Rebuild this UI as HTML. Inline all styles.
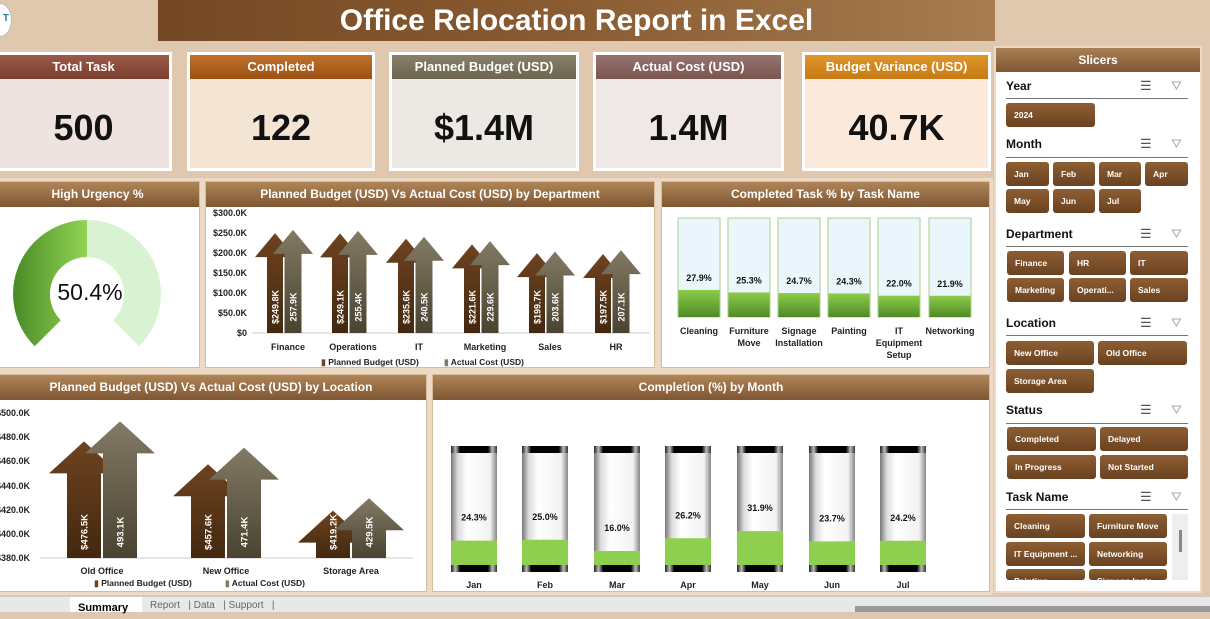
<!DOCTYPE html>
<html><head><meta charset="utf-8"><style>
*{margin:0;padding:0;box-sizing:border-box}
body{width:1210px;height:612px;overflow:hidden;background:#dfc8ae;font-family:"Liberation Sans",sans-serif;position:relative}
.abs{position:absolute}
.title{left:158px;top:0;width:837px;height:41px;background:linear-gradient(90deg,#744824,#8a5c32 50%,#a67c50);color:#fff;font-weight:bold;font-size:30px;text-align:center;line-height:41px}
.card{position:absolute;top:52px;height:119px;border:3px solid #fff}
.card .h{height:24px;color:#fff;font-weight:bold;font-size:13px;text-align:center;line-height:24px}
.card .v{height:89px;font-weight:bold;font-size:36px;text-align:center;line-height:98px;color:#111}
.panel{position:absolute;background:#fff;border:1px solid #d6bb9c;box-shadow:0 0 0 3px #ecdac6}
.ph{height:25px;background:linear-gradient(#b08558,#7e5632);color:#fff;font-weight:bold;font-size:12px;text-align:center;line-height:25px}
.sl{position:absolute;left:996px;top:48px;width:204px;height:543px;background:#fff;box-shadow:0 0 0 2px #ecdac6}
.slh{height:24px;background:linear-gradient(#a98056,#7e5632);color:#fff;font-weight:bold;font-size:12px;text-align:center;line-height:24px}
.lbl{position:absolute;left:1006px;font-weight:bold;font-size:12px;color:#111}
.ln{position:absolute;left:1006px;width:182px;height:1px;background:#777}
.b{position:absolute;height:24px;background:linear-gradient(#8e5e33,#6a4220);color:#fff;font-weight:bold;font-size:8.5px;line-height:24px;padding-left:8px;border-radius:3px;white-space:nowrap;overflow:hidden}
.ic{position:absolute;left:1140px;font-size:13px;color:#555}
.fi{position:absolute;left:1171px;font-size:13px;color:#aaa}
</style></head><body>
<div class="abs" style="left:-12px;top:3px;width:24px;height:34px;border-radius:50%;background:#fff;border:1px solid #bbb;font-size:10px;font-weight:bold;color:#2a7fa0;text-align:right;line-height:30px;padding-right:2px">T</div>
<div class="abs title">Office Relocation Report in Excel</div>

<div class="card" style="left:-5px;width:177px"><div class="h" style="background:linear-gradient(#9c5a48,#7a3e30)">Total Task</div><div class="v" style="background:#efe3e0">500</div></div>
<div class="card" style="left:187px;width:188px"><div class="h" style="background:linear-gradient(#c0702a,#9c5214)">Completed</div><div class="v" style="background:#f4e4d3">122</div></div>
<div class="card" style="left:389px;width:190px"><div class="h" style="background:linear-gradient(#888067,#6c6550)">Planned Budget (USD)</div><div class="v" style="background:#ece9e4">$1.4M</div></div>
<div class="card" style="left:593px;width:191px"><div class="h" style="background:linear-gradient(#957570,#7a5550)">Actual Cost (USD)</div><div class="v" style="background:#efe8e6">1.4M</div></div>
<div class="card" style="left:802px;width:189px"><div class="h" style="background:linear-gradient(#e0962a,#c87a14)">Budget Variance (USD)</div><div class="v" style="background:#fbeadb">40.7K</div></div>

<div class="panel" style="left:-5px;top:181px;width:205px;height:187px"><div class="ph">High Urgency %</div></div>
<div class="panel" style="left:205px;top:181px;width:450px;height:187px"><div class="ph">Planned Budget (USD) Vs Actual Cost (USD) by Department</div></div>
<div class="panel" style="left:661px;top:181px;width:329px;height:187px"><div class="ph">Completed Task % by Task Name</div></div>
<div class="panel" style="left:-5px;top:374px;width:432px;height:218px"><div class="ph">Planned Budget (USD) Vs Actual Cost (USD) by Location</div></div>
<div class="panel" style="left:432px;top:374px;width:558px;height:218px"><div class="ph">Completion (%) by Month</div></div>

<div class="sl"><div class="slh">Slicers</div></div>
<div class="lbl" style="top:79px">Year</div><div class="ln" style="top:98px"></div>
<div class="lbl" style="top:137px">Month</div><div class="ln" style="top:157px"></div>
<div class="lbl" style="top:227px">Department</div><div class="ln" style="top:246px"></div>
<div class="lbl" style="top:316px">Location</div><div class="ln" style="top:335px"></div>
<div class="lbl" style="top:403px">Status</div><div class="ln" style="top:423px"></div>
<div class="lbl" style="top:490px">Task Name</div><div class="ln" style="top:509px"></div>
<div class="ic" style="top:78px">☰</div><div class="fi" style="top:78px">⛛</div>
<div class="ic" style="top:136px">☰</div><div class="fi" style="top:136px">⛛</div>
<div class="ic" style="top:226px">☰</div><div class="fi" style="top:226px">⛛</div>
<div class="ic" style="top:315px">☰</div><div class="fi" style="top:315px">⛛</div>
<div class="ic" style="top:402px">☰</div><div class="fi" style="top:402px">⛛</div>
<div class="ic" style="top:489px">☰</div><div class="fi" style="top:489px">⛛</div>

<div class="b" style="left:1006px;top:103px;width:89px">2024</div>
<div class="b" style="left:1006px;top:162px;width:43px">Jan</div>
<div class="b" style="left:1053px;top:162px;width:42px">Feb</div>
<div class="b" style="left:1099px;top:162px;width:42px">Mar</div>
<div class="b" style="left:1145px;top:162px;width:43px">Apr</div>
<div class="b" style="left:1006px;top:189px;width:43px">May</div>
<div class="b" style="left:1053px;top:189px;width:42px">Jun</div>
<div class="b" style="left:1099px;top:189px;width:42px">Jul</div>
<div class="b" style="left:1007px;top:251px;width:57px">Finance</div>
<div class="b" style="left:1069px;top:251px;width:57px">HR</div>
<div class="b" style="left:1130px;top:251px;width:58px">IT</div>
<div class="b" style="left:1007px;top:278px;width:57px">Marketing</div>
<div class="b" style="left:1069px;top:278px;width:57px">Operati...</div>
<div class="b" style="left:1130px;top:278px;width:58px">Sales</div>
<div class="b" style="left:1006px;top:341px;width:88px">New Office</div>
<div class="b" style="left:1098px;top:341px;width:89px">Old Office</div>
<div class="b" style="left:1006px;top:369px;width:88px">Storage Area</div>
<div class="b" style="left:1007px;top:427px;width:89px">Completed</div>
<div class="b" style="left:1100px;top:427px;width:88px">Delayed</div>
<div class="b" style="left:1007px;top:455px;width:89px">In Progress</div>
<div class="b" style="left:1100px;top:455px;width:88px">Not Started</div>
<div class="b" style="left:1006px;top:514px;width:79px">Cleaning</div>
<div class="b" style="left:1089px;top:514px;width:78px">Furniture Move</div>
<div class="b" style="left:1006px;top:542px;width:79px">IT Equipment ...</div>
<div class="b" style="left:1089px;top:542px;width:78px">Networking</div>
<div class="b" style="left:1006px;top:569px;width:79px;height:11px">Painting</div>
<div class="b" style="left:1089px;top:569px;width:78px;height:11px">Signage Insta...</div>
<div class="abs" style="left:1172px;top:514px;width:16px;height:66px;background:#eee"></div>
<div class="abs" style="left:1179px;top:530px;width:3px;height:22px;background:#888"></div>

<div class="abs" style="left:0;top:596px;width:1210px;height:16px;background:#e8e8e8;border-top:1px solid #ccc"></div>
<div class="abs" style="left:70px;top:597px;width:72px;height:15px;background:#fff;font-size:11px;font-weight:bold;padding-left:8px;line-height:22px">Summary</div>
<div class="abs" style="left:150px;top:600px;font-size:10px;color:#666">Report &nbsp;&nbsp;| Data &nbsp;&nbsp;| Support &nbsp;&nbsp;|</div>
<div class="abs" style="left:855px;top:606px;width:355px;height:6px;background:#999"></div>

<svg class="abs" style="left:0;top:0" width="1210" height="612" font-family="Liberation Sans, sans-serif">
<defs>
<linearGradient id="gp" x1="0" y1="0" x2="0" y2="1"><stop offset="0" stop-color="#6e4320"/><stop offset="1" stop-color="#43280f"/></linearGradient>
<linearGradient id="ga" x1="0" y1="0" x2="0" y2="1"><stop offset="0" stop-color="#827a64"/><stop offset="1" stop-color="#4a4332"/></linearGradient>
<linearGradient id="gg" x1="0" y1="0" x2="1" y2="0"><stop offset="0" stop-color="#4a8a26"/><stop offset="1" stop-color="#92d452"/></linearGradient>
<linearGradient id="gt" x1="0" y1="0" x2="0" y2="1"><stop offset="0" stop-color="#8dcc4a"/><stop offset="1" stop-color="#4f8a26"/></linearGradient>
<linearGradient id="cyl" x1="0" y1="0" x2="1" y2="0"><stop offset="0" stop-color="#777"/><stop offset="0.15" stop-color="#ddd"/><stop offset="0.35" stop-color="#fff"/><stop offset="0.85" stop-color="#f2f2f2"/><stop offset="1" stop-color="#888"/></linearGradient>
<linearGradient id="cap" x1="0" y1="0" x2="1" y2="0"><stop offset="0" stop-color="#222"/><stop offset="0.1" stop-color="#bbb"/><stop offset="0.2" stop-color="#000"/><stop offset="0.8" stop-color="#000"/><stop offset="0.9" stop-color="#bbb"/><stop offset="1" stop-color="#333"/></linearGradient>
</defs>
<path d="M34.7,346.3 A74,74 0 0 1 87,220 L87,257 A37,37 0 0 0 60.8,320.2 Z" fill="url(#gg)"/>
<path d="M87,220 A74,74 0 0 1 139.3,346.3 L113.2,320.2 A37,37 0 0 0 87,257 Z" fill="#d8f2d2"/>
<text x="90" y="300" font-size="23" text-anchor="middle" fill="#111">50.4%</text>

<g font-size="9" font-weight="bold" fill="#222" text-anchor="end">
<text x="247" y="216">$300.0K</text><text x="247" y="236">$250.0K</text><text x="247" y="256">$200.0K</text><text x="247" y="276">$150.0K</text><text x="247" y="296">$100.0K</text><text x="247" y="316">$50.0K</text><text x="247" y="336">$0</text>
</g>
<line x1="252" y1="333" x2="650" y2="333" stroke="#ccc"/>
<g id="dept"></g>
<g font-size="9" font-weight="bold" fill="#222" text-anchor="middle">
<text x="288" y="350">Finance</text><text x="353" y="350">Operations</text><text x="419" y="350">IT</text><text x="485" y="350">Marketing</text><text x="550" y="350">Sales</text><text x="616" y="350">HR</text>
<text x="370" y="365" font-size="8.5"><tspan fill="#6e4320">▮</tspan> Planned Budget (USD)</text>
<text x="484" y="365" font-size="8.5"><tspan fill="#827a64">▮</tspan> Actual Cost (USD)</text>
</g>

<g font-size="9" font-weight="bold" fill="#222" text-anchor="end">
<text x="30" y="416">$500.0K</text><text x="30" y="440">$480.0K</text><text x="30" y="464">$460.0K</text><text x="30" y="489">$440.0K</text><text x="30" y="513">$420.0K</text><text x="30" y="537">$400.0K</text><text x="30" y="561">$380.0K</text>
</g>
<line x1="40" y1="558" x2="413" y2="558" stroke="#ccc"/>
<g id="loc"></g>
<g font-size="9" font-weight="bold" fill="#222" text-anchor="middle">
<text x="102" y="574">Old Office</text><text x="226" y="574">New Office</text><text x="351" y="574">Storage Area</text>
<text x="143" y="586" font-size="8.5"><tspan fill="#6e4320">▮</tspan> Planned Budget (USD)</text>
<text x="265" y="586" font-size="8.5"><tspan fill="#827a64">▮</tspan> Actual Cost (USD)</text>
</g>
<g id="task"></g>
<g id="mon"></g>
</svg>
<script>
var NS="http://www.w3.org/2000/svg";
function el(p,t,a,txt){var e=document.createElementNS(NS,t);for(var k in a)e.setAttribute(k,a[k]);if(txt)e.textContent=txt;document.getElementById(p).appendChild(e);return e;}
function arrow(p,cx,w,H,hh,tip,base,fill){
 var d="M"+(cx-w/2)+","+base+"L"+(cx-w/2)+","+(tip+hh)+"L"+(cx-H/2)+","+(tip+hh)+"L"+cx+","+tip+"L"+(cx+H/2)+","+(tip+hh)+"L"+(cx+w/2)+","+(tip+hh)+"L"+(cx+w/2)+","+base+"Z";
 el(p,"path",{d:d,fill:fill});}
function vlab(p,x,y,t,s){el(p,"text",{x:0,y:0,transform:"translate("+(x+3.5)+","+y+") rotate(-90)","font-size":s,"font-weight":"bold",fill:"#fff","text-anchor":"middle"},t);}
var D=[[288,249.8,257.9,"$249.8K","257.9K"],[353,249.1,255.4,"$249.1K","255.4K"],[419,235.6,240.5,"$235.6K","240.5K"],[485,221.6,229.6,"$221.6K","229.6K"],[550,199.7,203.6,"$199.7K","203.6K"],[616,197.5,207.1,"$197.5K","207.1K"]];
D.forEach(function(d){var c=d[0];
 arrow("dept",c-13,16,40,24,333-0.4*d[1],333,"url(#gp)");
 arrow("dept",c+5,17,40,24,333-0.4*d[2],333,"url(#ga)");
 vlab("dept",c-13,307,d[3],9);vlab("dept",c+5,307,d[4],9);});
var L=[[102,476.5,493.1,"$476.5K","493.1K"],[226,457.6,471.4,"$457.6K","471.4K"],[351,419.2,429.5,"$419.2K","429.5K"]];
L.forEach(function(d){var c=d[0];
 arrow("loc",c-18,34,70,32,558-(d[1]-380)*1.208,558,"url(#gp)");
 arrow("loc",c+18,34,70,32,558-(d[2]-380)*1.208,558,"url(#ga)");
 vlab("loc",c-18,532,d[3],9.5);vlab("loc",c+18,532,d[4],9.5);});
var T=[[699,27.9,["Cleaning"]],[749,25.3,["Furniture","Move"]],[799,24.7,["Signage","Installation"]],[849,24.3,["Painting"]],[899,22.0,["IT","Equipment","Setup"]],[950,21.9,["Networking"]]];
T.forEach(function(d){var c=d[0],x=c-21,top=218,bot=317,g=bot-d[1]*0.97;
 el("task","rect",{x:x,y:top,width:42,height:bot-top,fill:"#eaf6fb",stroke:"#a9d28c"});
 el("task","rect",{x:x+0.5,y:g,width:41,height:bot-g,fill:"url(#gt)"});
 el("task","text",{x:c,y:g-9,"font-size":9,"font-weight":"bold","text-anchor":"middle",fill:"#111"},d[1].toFixed(1)+"%");
 d[2].forEach(function(s,i){el("task","text",{x:c,y:334+i*12,"font-size":9,"font-weight":"bold","text-anchor":"middle",fill:"#222"},s);});});
var M=[[474,24.3,"Jan"],[545,25.0,"Feb"],[617,16.0,"Mar"],[688,26.2,"Apr"],[760,31.9,"May"],[832,23.7,"Jun"],[903,24.2,"Jul"]];
M.forEach(function(d){var c=d[0],x=c-23,g=565-(1.25*d[1]-6);
 el("mon","rect",{x:x,y:452,width:46,height:113,fill:"url(#cyl)"});
 el("mon","rect",{x:x,y:g,width:46,height:565-g,fill:"#8fcf4f"});
 el("mon","rect",{x:x,y:446,width:46,height:7,fill:"url(#cap)"});
 el("mon","rect",{x:x,y:565,width:46,height:7,fill:"url(#cap)"});
 el("mon","text",{x:c,y:g-20,"font-size":9,"font-weight":"bold","text-anchor":"middle",fill:"#111"},d[1].toFixed(1)+"%");
 el("mon","text",{x:c,y:588,"font-size":9,"font-weight":"bold","text-anchor":"middle",fill:"#222"},d[2]);});
</script>
</body></html>
